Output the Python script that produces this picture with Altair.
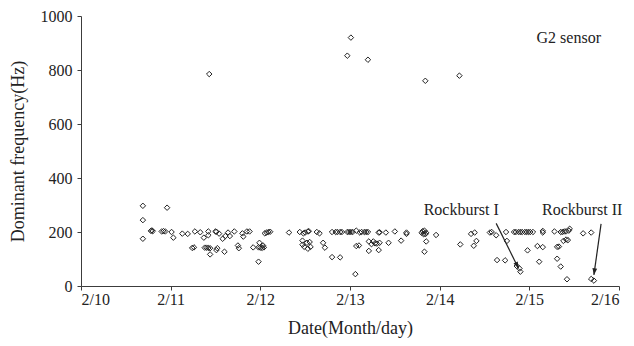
import math
import altair as alt
import pandas as pd

# Event times (day of February, fractional) and dominant frequency (Hz)
days = [
    10.69, 10.69, 10.69, 10.78, 10.79, 10.80, 10.96, 10.90, 10.92, 10.94,
    11.01, 11.03, 11.13, 11.19, 11.27, 11.24, 11.26, 11.33, 11.37, 11.42,
    11.42, 11.38, 11.40, 11.42, 11.44, 11.44, 11.50, 11.51, 11.54, 11.52,
    11.51, 11.58, 11.60, 11.61, 11.64, 11.66, 11.71, 11.75, 11.76, 11.80,
    11.81, 11.85, 11.88, 11.92, 11.98, 11.99, 11.98, 12.00, 12.02, 12.04,
    12.05, 12.07, 12.09, 12.11, 12.03, 12.32, 12.44, 12.48, 12.50, 12.53,
    12.54, 12.47, 12.47, 12.49, 12.53, 12.56, 12.52, 12.55, 12.63, 12.66,
    12.70, 12.72, 12.80, 12.89, 12.80, 12.84, 12.86, 12.89, 12.91, 12.97,
    12.99, 13.01, 13.03, 13.06, 13.07, 13.07, 13.10, 13.11, 13.13, 13.16,
    13.18, 13.20, 13.21, 13.21, 13.24, 13.26, 13.28, 13.30, 13.33, 13.32,
    13.32, 13.33, 13.40, 13.43, 13.50, 13.57, 13.63, 13.63, 13.80, 13.81,
    13.83, 13.85, 13.84, 13.82, 13.85, 13.83, 13.96, 14.23, 14.35, 14.39,
    14.38, 14.41, 14.56, 14.58, 14.63, 14.64, 14.73, 14.74, 14.75, 14.83,
    14.85, 14.88, 14.90, 14.92, 14.95, 14.97, 14.99, 15.01, 15.04, 14.86,
    14.89, 14.90, 14.98, 15.11, 15.09, 15.15, 15.15, 15.15, 15.28, 15.31,
    15.31, 15.33, 15.35, 15.35, 15.37, 15.39, 15.41, 15.38, 15.41, 15.43,
    15.44, 15.45, 15.42, 15.60, 15.69, 15.69, 15.72,
    11.43, 13.01, 12.97, 13.20, 13.84, 14.22,
]
freqs = [
    297, 244, 175, 204, 206, 203, 290, 202, 203, 202,
    200, 179, 194, 193, 202, 141, 143, 199, 179, 202,
    188, 142, 142, 141, 140, 117, 202, 201, 194, 140,
    133, 175, 127, 185, 198, 185, 202, 150, 140, 195,
    183, 202, 202, 143, 90, 160, 143, 142, 141, 143,
    195, 198, 200, 201, 150, 198, 200, 195, 198, 202,
    203, 168, 153, 145, 138, 145, 160, 163, 200, 195,
    160, 142, 107, 106, 200, 200, 200, 200, 200, 200,
    200, 200, 200, 44, 205, 148, 150, 198, 200, 200,
    200, 200, 165, 130, 155, 165, 158, 157, 160, 133,
    198, 199, 198, 160, 202, 168, 198, 193, 197, 203,
    205, 197, 192, 192, 165, 127, 189, 154, 193, 198,
    149, 167, 198, 200, 188, 96, 95, 200, 167, 200,
    200, 200, 200, 200, 200, 200, 200, 200, 200, 74,
    65, 53, 132, 90, 148, 204, 198, 144, 202, 101,
    145, 146, 72, 200, 200, 202, 202, 167, 172, 170,
    205, 212, 25, 195, 198, 26, 20,
    785, 920, 853, 838, 760, 779,
]

# Annotation texts and their anchor positions (day, Hz)
note_texts = ["G2 sensor", "Rockburst I", "Rockburst II"]
note_days = [15.44, 14.24, 15.59]
note_freqs = [918, 281, 281]

# Arrows pointing at the two rockbursts: start -> tip
arrow_day0 = [14.63, 15.80]
arrow_f0 = [232, 230]
arrow_day1 = [14.88, 15.72]
arrow_f1 = [65, 41]

x_ticks = [10, 11, 12, 13, 14, 15, 16]
y_ticks = [0, 200, 400, 600, 800, 1000]

W, H = 538, 270
X_MIN, X_MAX = 10, 16
Y_MIN, Y_MAX = 0, 1000
px_day = W / (X_MAX - X_MIN)
px_hz = H / (Y_MAX - Y_MIN)

FONT = "Liberation Serif"
INK = "#222222"
AXIS = "#3c3c3c"

pts = pd.DataFrame({"day": days, "freq": freqs})
notes = pd.DataFrame({"day": note_days, "freq": note_freqs, "text": note_texts})

# arrowhead rotation in screen space (clockwise from up)
angles = []
for d0, f0, d1, f1 in zip(arrow_day0, arrow_f0, arrow_day1, arrow_f1):
    dx = (d1 - d0) * px_day
    dy = -(f1 - f0) * px_hz
    angles.append((math.degrees(math.atan2(dx, -dy)) + 360) % 360)
arrows = pd.DataFrame({
    "d0": arrow_day0, "f0": arrow_f0, "d1": arrow_day1, "f1": arrow_f1,
    "angle": angles,
})

xs = alt.Scale(domain=[X_MIN, X_MAX], nice=False, zero=False)
ys = alt.Scale(domain=[Y_MIN, Y_MAX], nice=False)

x_axis = alt.Axis(
    values=x_ticks, labelExpr="'2/' + datum.value", grid=False,
    title="Date(Month/day)", titleX=W / 2, titleY=42,
    titleBaseline="middle", tickSize=4, labelPadding=1,
)
y_axis = alt.Axis(
    values=y_ticks, format="d", grid=False, title="Dominant frequency(Hz)",
    titleX=-63, titleY=H / 2, titleAngle=-90, titleBaseline="middle",
    titleAlign="center", tickSize=4, labelPadding=5,
)

points = alt.Chart(pts).mark_point(
    shape="diamond", size=30, filled=False, stroke=INK, strokeWidth=1, opacity=1
).encode(
    x=alt.X("day:Q", scale=xs, axis=x_axis),
    y=alt.Y("freq:Q", scale=ys, axis=y_axis),
)

shafts = alt.Chart(arrows).mark_rule(color=INK, strokeWidth=1.2).encode(
    x="d0:Q", y="f0:Q", x2="d1:Q", y2="f1:Q",
)

heads = alt.Chart(arrows).mark_point(
    shape="M0,0L-0.8,2.2L0.8,2.2Z", size=36, filled=True, color=INK, opacity=1
).encode(
    x="d1:Q", y="f1:Q", angle=alt.Angle("angle:Q", scale=None),
)

labels = alt.Chart(notes).mark_text(
    font=FONT, fontSize=16, color=INK, align="center", baseline="middle"
).encode(x="day:Q", y="freq:Q", text="text:N")

chart = alt.layer(points, shafts, heads, labels).properties(
    width=W, height=H,
    background="white",
    autosize=alt.AutoSizeParams(type="none"),
    padding={"left": 81, "top": 16, "right": 15, "bottom": 60},
).configure_view(stroke=None).configure_axis(
    labelFont=FONT, labelFontSize=16, labelColor=INK,
    titleFont=FONT, titleFontSize=18, titleFontWeight="normal", titleColor=INK,
    domainColor=AXIS, tickColor=AXIS, domainWidth=1, tickWidth=1,
)

chart.save("out.html", embed_options={"renderer": "svg", "actions": False})
